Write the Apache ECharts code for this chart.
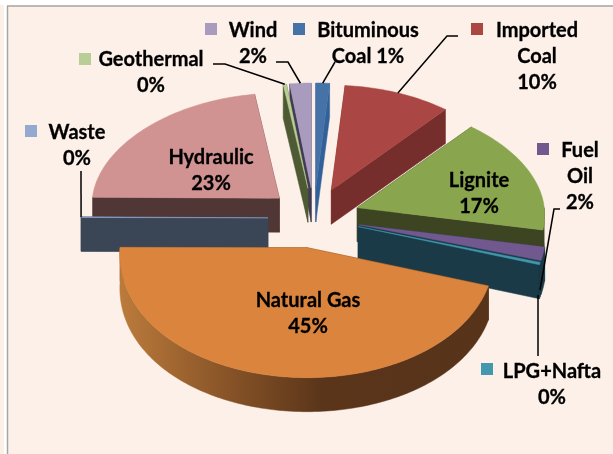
<!DOCTYPE html>
<html>
<head>
<meta charset="utf-8">
<title>Electricity generation by source</title>
<script src="https://cdn.jsdelivr.net/npm/echarts@6/dist/echarts.min.js"></script>
<style>
html, body { margin: 0; padding: 0; background: #fff; }
#chart { width: 613px; height: 454px; }
</style>
</head>
<body>
<div id="chart"></div>
<script>
// clockwise from 12 o'clock
var sliceNames = ["Bituminous Coal", "Imported Coal", "Lignite", "Fuel Oil", "LPG+Nafta", "Natural Gas", "Waste", "Hydraulic", "Geothermal", "Wind"];
var sliceShares = [1.25, 9.8, 16.7, 1.7, 0.3, 45.3, 0.1, 22.6, 0.3, 1.95];
var sliceLabels = ["Bituminous\nCoal 1%", "Imported\nCoal\n10%", "Lignite\n17%", "Fuel\nOil\n2%", "LPG+Nafta\n0%", "Natural Gas\n45%", "Waste\n0%", "Hydraulic\n23%", "Geothermal\n0%", "Wind\n2%"];

// styles and layout, same order as the slices
var topColors = ["#4572a7", "#aa4643", "#89a54e", "#71588f", "#4198af", "#db843d", "#93a9cf", "#d19392", "#b9cd96", "#a99bbd"];
var wallColors = ["#32609a", "#752e2b", "#3c4422", "#1b3a47", "#1b3a47", "#57331a", "#3a4556", "#513636", "#4d5a33", "#423a54"];
var labelX = [368, 537, 479, 580, 552, 308, 77, 211, 151, 253];
var labelY = [44, 57, 194, 177, 385, 314, 146, 171, 73, 44];
var keyX = [293, 471, null, 537, 481, null, 25, null, 79, 205];
var keyY = [23, 23, null, 143, 363, null, 125, null, 53, 23];
// leader start, then elbow; last point comes from the slice rim unless leaderEnd is set
var leaders = [
  [[335, 62]],
  [[458, 36], [447, 36]],
  null,
  [[560, 209], [554, 209]],
  [[538, 356]],
  null,
  [[81, 171]],
  null,
  [[213, 64], [225, 64]],
  [[276, 62], [288, 62]]
];
var leaderEnd = { 3: [540, 290], 4: [538, 295] };

// pie geometry
var CX = 314, CY = 218;
var EXPLODE_X = 46, EXPLODE_Y = 30;
var RX = 187, RY_BACK = 105, RY_FRONT = 130;
var DEPTH = 34;
var LABEL_FONT = "bold 20px Lato";

var total = sliceShares.reduce(function (a, b) { return a + b; }, 0);
var slices = [];
var acc = 0;
sliceShares.forEach(function (v, i) {
  var a0 = acc / total * Math.PI * 2;
  acc += v;
  var a1 = acc / total * Math.PI * 2;
  slices.push({ index: i, a0: a0, a1: a1, mid: (a0 + a1) / 2 });
});

function apexOf(s) {
  return [CX + EXPLODE_X * Math.sin(s.mid), CY - EXPLODE_Y * Math.cos(s.mid)];
}
function rimPoint(s, a) {
  var p = apexOf(s);
  var v = Math.cos(a);
  // slight perspective: back of the pie narrower, front wider
  var rx = RX * (v > 0 ? 1 - 0.06 * v : 1 - 0.05 * v);
  return [p[0] + rx * Math.sin(a), p[1] - (v > 0 ? RY_BACK : RY_FRONT) * v];
}
function arcPoints(s, a0, a1) {
  var pts = [];
  var n = Math.max(2, Math.ceil((a1 - a0) / 0.02));
  for (var k = 0; k <= n; k++) {
    pts.push(rimPoint(s, a0 + (a1 - a0) * k / n));
  }
  return pts;
}
function drop(pts) {
  return pts.map(function (p) { return [p[0], p[1] + DEPTH]; });
}
function poly(points, fill) {
  return { type: "polygon", shape: { points: points }, style: { fill: fill, stroke: fill, lineWidth: 0.5 }, silent: true };
}

// back slices first so the front ones paint over them
var drawOrder = slices.slice().sort(function (a, b) { return Math.cos(b.mid) - Math.cos(a.mid); });

function renderSlice(params) {
  var s = drawOrder[params.dataIndex];
  var i = s.index;
  var apex = apexOf(s);
  var children = [];
  var wall = wallColors[i];
  var p0 = rimPoint(s, s.a0), p1 = rimPoint(s, s.a1);
  children.push(poly([apex, p0, [p0[0], p0[1] + DEPTH], [apex[0], apex[1] + DEPTH]], wall));
  children.push(poly([apex, p1, [p1[0], p1[1] + DEPTH], [apex[0], apex[1] + DEPTH]], wall));

  // outer wall, only the part facing the viewer
  var f0 = Math.max(s.a0, Math.PI / 2), f1 = Math.min(s.a1, Math.PI * 1.5);
  if (f1 > f0) {
    var upper = arcPoints(s, f0, f1);
    var lower = drop(upper).reverse();
    var fill = wall;
    if (sliceNames[i] === "Natural Gas") {
      fill = new echarts.graphic.LinearGradient(1, 0, 0, 0, [
        { offset: 0, color: "#57331a" },
        { offset: 0.45, color: "#5a351a" },
        { offset: 0.72, color: "#8a5528" },
        { offset: 1, color: "#bb7b3b" }
      ]);
    }
    children.push(poly(upper.concat(lower), fill));
  }

  children.push(poly([apex].concat(arcPoints(s, s.a0, s.a1)), topColors[i]));
  return { type: "group", children: children };
}

function renderLabel(params) {
  var i = params.dataIndex;
  var s = slices[i];
  var children = [];
  if (leaders[i]) {
    var end = leaderEnd[i] || rimPoint(s, s.mid);
    children.push({
      type: "polyline",
      shape: { points: leaders[i].concat([end]) },
      style: { fill: null, stroke: "#000", lineWidth: 1.5 },
      silent: true
    });
  }
  if (keyX[i] !== null) {
    children.push({
      type: "rect",
      shape: { x: keyX[i], y: keyY[i], width: 12, height: 12 },
      style: { fill: topColors[i] },
      silent: true
    });
  }
  children.push({
    type: "text",
    style: {
      text: sliceLabels[i],
      x: labelX[i],
      y: labelY[i],
      align: "center",
      verticalAlign: "middle",
      font: LABEL_FONT,
      lineHeight: 26,
      fill: "#000",
      stroke: "#000",
      lineWidth: 0.3
    },
    silent: true
  });
  return { type: "group", children: children };
}

var chart = echarts.init(document.getElementById("chart"));
chart.setOption({
  animation: false,
  backgroundColor: "#fdf0e8",
  tooltip: { show: false },
  graphic: [
    { type: "rect", shape: { x: 0, y: 0, width: 613, height: 5 }, style: { fill: "#ffffff" }, z: 0 },
    { type: "rect", shape: { x: 4, y: 0, width: 3, height: 454 }, style: { fill: "#ffffff" }, z: 0 },
    { type: "line", shape: { x1: 7, y1: 6, x2: 613, y2: 6 }, style: { stroke: "#a6a6a6", lineWidth: 1.5 }, z: 0 },
    { type: "line", shape: { x1: 7.5, y1: 6, x2: 7.5, y2: 454 }, style: { stroke: "#a6a6a6", lineWidth: 1.5 }, z: 0 }
  ],
  series: [
    {
      type: "custom",
      coordinateSystem: "none",
      silent: true,
      z: 2,
      data: drawOrder.map(function (s) { return sliceShares[s.index]; }),
      renderItem: renderSlice
    },
    {
      type: "custom",
      coordinateSystem: "none",
      silent: true,
      z: 3,
      data: sliceShares,
      renderItem: renderLabel
    }
  ]
});
</script>
</body>
</html>
